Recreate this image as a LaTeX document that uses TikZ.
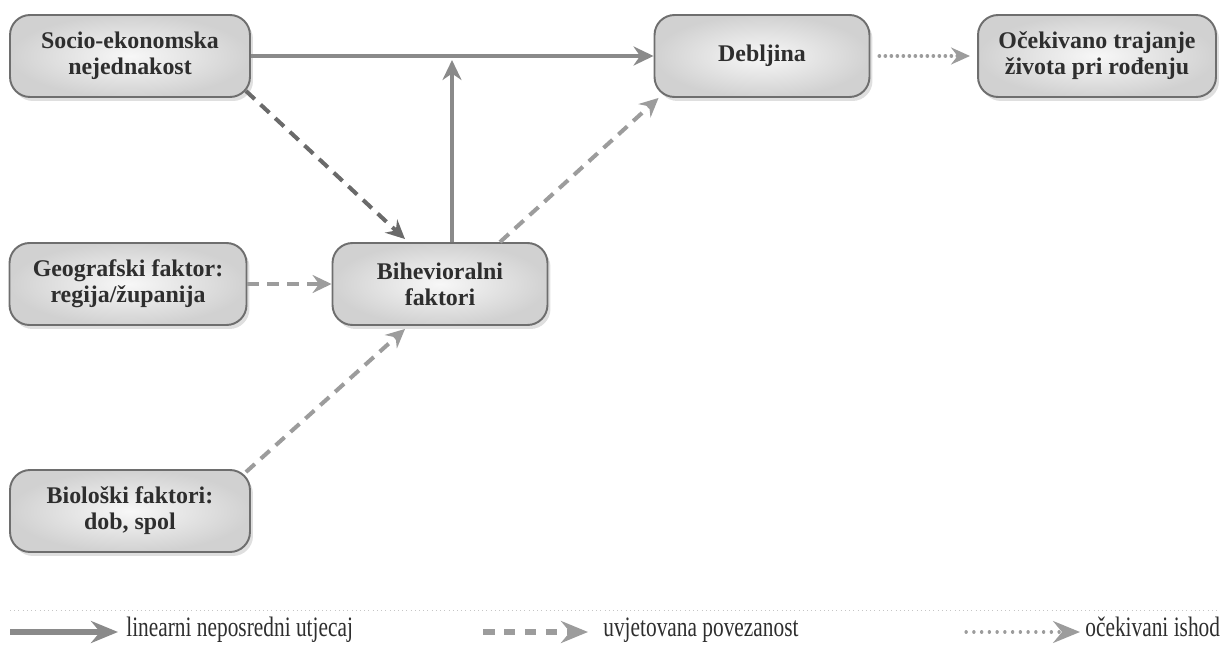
\documentclass[tikz,border=0pt]{standalone}
\usepackage{fontspec}
\setmainfont{Liberation Serif}
\newfontfamily\legendfont[FakeStretch=0.76]{Liberation Serif}
\usepackage{tikz}
\usetikzlibrary{arrows.meta,positioning,shadows,calc}
\definecolor{boxline}{HTML}{6E6E6E}
\definecolor{boxtext}{HTML}{2E2E2E}
\definecolor{arrowgray}{HTML}{8A8A8A}
\definecolor{darkdash}{HTML}{6A6A6A}
\definecolor{lightdash}{HTML}{9C9C9C}

\begin{document}
\begin{tikzpicture}[x=0.02cm, y=-0.02cm,
	factorbox/.style={draw=boxline, line width=1.1pt, rounded corners=4mm, inner color=gray!6, outer color=gray!36, drop shadow={shadow xshift=0.6mm, shadow yshift=-0.8mm, opacity=0.25}, minimum height=1.64cm, align=center, text=boxtext, font=\fontsize{13.6}{14.8}\selectfont\bfseries},
	legtext/.style={anchor=base west, inner sep=0pt, text=boxtext, font=\legendfont\fontsize{16}{18}\selectfont},
	linarrow/.style={line width=2.6pt, draw=arrowgray, -{Stealth[length=4mm, width=3.8mm, inset=1.3mm]}},
	condarrow/.style={line width=2.3pt, draw=lightdash, dash pattern=on 2.4mm off 1.6mm, -{Stealth[length=3.8mm, width=3.6mm, inset=1.3mm]}},
	outarrow/.style={line width=2pt, draw=lightdash, line cap=round, dash pattern=on 0.05mm off 1.15mm, -{Stealth[length=3.8mm, width=3.4mm, inset=1.3mm]}},
	legtip/.style={-{Stealth[length=5.4mm, width=4.4mm, inset=1.8mm]}}]
	\useasboundingbox (0,0) rectangle (1224,646);
	% faktori
	\node [factorbox, minimum width=4.8cm](socio_node) at (130,56) {Socio-ekonomska\\nejednakost};
	\node [factorbox, minimum width=4.3cm](debljina_node) at (762,56) {Debljina};
	\node [factorbox, minimum width=4.76cm](ocekivano_node) at (1097,56) {Očekivano trajanje\\života pri rođenju};
	\node [factorbox, minimum width=4.74cm](geo_node) at (128,284) {Geografski faktor:\\regija/županija};
	\node [factorbox, minimum width=4.3cm](bih_node) at (440,284) {Bihevioralni\\faktori};
	\node [factorbox, minimum width=4.8cm](bio_node) at (130,511) {Biološki faktori:\\dob, spol};
	% veze
	\draw [linarrow] (socio_node.east) -- (debljina_node.west);
	\coordinate (bih_top) at ($(bih_node.north)+(12,0)$);
	\draw [linarrow] (bih_top) -- ($(bih_top |- socio_node.east)+(0,4)$);
	\draw [condarrow, draw=darkdash] ($(socio_node.south east)+(-5,-7)$) -- ($(bih_node.north)+(-35,-3)$);
	\draw [condarrow] (geo_node.east) -- (bih_node.west);
	\draw [condarrow] ($(bih_node.north)+(60,0)$) -- ($(debljina_node.south west)+(5,0)$);
	\draw [condarrow] ($(bio_node.north east)+(-5,3)$) -- ($(bih_node.south)+(-35,3)$);
	\draw [outarrow, shorten <=5pt, shorten >=4pt] (debljina_node.east) -- (ocekivano_node.west);
	% legenda
	\draw [gray!45, line width=0.4pt, dotted] (10,610) -- (1216,610);
	\node [legtext](lin_leg) at (126,636) {linearni neposredni utjecaj};
	\node [legtext](cond_leg) at (603,636) {uvjetovana povezanost};
	\node [legtext](out_leg) at (1085,636) {očekivani ishod};
	\coordinate (lin_start) at (10,632);
	\coordinate (lin_end) at (118,632);
	\coordinate (cond_start) at (483,632);
	\coordinate (cond_end) at (588,632);
	\coordinate (out_start) at (966,632);
	\coordinate (out_end) at (1080,632);
	\draw [linarrow, legtip, line width=3.2pt] (lin_start) -- (lin_end);
	\draw [condarrow, legtip, line width=3pt, dash pattern=on 2.3mm off 1.9mm] (cond_start) -- (cond_end);
	\draw [outarrow, legtip, line width=1.8pt, dash pattern=on 0.05mm off 1.5mm] (out_start) -- (out_end);
	\end{tikzpicture}
\end{document}
